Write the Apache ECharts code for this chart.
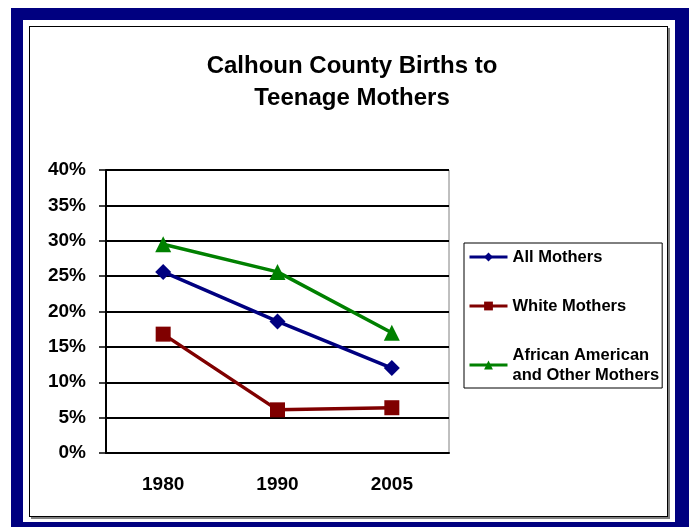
<!DOCTYPE html>
<html>
<head>
<meta charset="utf-8">
<script src="https://cdn.jsdelivr.net/npm/echarts@6/dist/echarts.min.js"></script>
<style>
  html, body { margin: 0; padding: 0; background: #fff; }
  #frame { position: absolute; left: 11px; top: 8px; width: 678px; height: 519px; background: #000080; }
  #inner { position: absolute; left: 23px; top: 20px; width: 652px; height: 502px; background: #fff; }
  #box { position: absolute; left: 29px; top: 26px; width: 637px; height: 489px; border: 1px solid #000; box-shadow: 2px 2px 0 #808080; background: #fff; }
  #main { position: absolute; left: 0; top: 0; width: 689px; height: 527px; }
</style>
</head>
<body>
<div id="frame"></div>
<div id="inner"></div>
<div id="box"></div>
<div id="main"></div>
<script>
  // 数据
  let years = ['1980', '1990', '2005'];
  let allMothers = [25.6, 18.6, 12.0];
  let whiteMothers = [16.8, 6.1, 6.4];
  let africanMothers = [29.5, 25.6, 17.0];

  let font = 'Liberation Sans, Arial, sans-serif';
  let myChart = echarts.init(document.getElementById('main'));

  let option = {
    textStyle: { fontFamily: font },
    title: {
      text: 'Calhoun County Births to\nTeenage Mothers',
      left: 347,
      top: 45,
      textAlign: 'center',
      textStyle: { fontSize: 24, fontWeight: 'bold', color: '#000', lineHeight: 32, fontFamily: font }
    },
    legend: {
      orient: 'vertical',
      left: 464,
      top: 243,
      padding: [4, 3, 3, 4],
      borderColor: '#000',
      borderWidth: 1,
      backgroundColor: '#fff',
      itemWidth: 38,
      itemHeight: 11,
      itemGap: 29,
      lineStyle: { width: 3 },
      textStyle: { fontSize: 16.5, fontWeight: 'bold', color: '#000', lineHeight: 20, fontFamily: font },
      data: ['All Mothers', 'White Mothers', 'African American\nand Other Mothers']
    },
    grid: {
      left: 106,
      right: 240,
      top: 170,
      bottom: 74,
      show: true,
      borderColor: '#808080',
      borderWidth: 1
    },
    xAxis: {
      type: 'category',
      data: years,
      boundaryGap: true,
      axisLine: { lineStyle: { color: '#000', width: 2 } },
      axisTick: { length: 6, lineStyle: { color: '#000', width: 1.5 } },
      axisLabel: { margin: 22, fontSize: 19, fontWeight: 'bold', color: '#000', fontFamily: font }
    },
    yAxis: {
      type: 'value',
      min: 0,
      max: 40,
      interval: 5,
      axisLine: { show: true, lineStyle: { color: '#000', width: 2 } },
      axisTick: { show: true, length: 7, lineStyle: { color: '#000', width: 1.5 } },
      axisLabel: { formatter: '{value}%', margin: 20, fontSize: 19, fontWeight: 'bold', color: '#000', fontFamily: font },
      splitLine: { lineStyle: { color: '#000', width: 2 } }
    },
    series: [
      {
        name: 'All Mothers',
        type: 'line',
        data: allMothers,
        symbol: 'diamond',
        symbolSize: 16,
        color: '#000080',
        lineStyle: { width: 3.5 },
        z: 3
      },
      {
        name: 'White Mothers',
        type: 'line',
        data: whiteMothers,
        symbol: 'rect',
        symbolSize: 15,
        color: '#800000',
        lineStyle: { width: 3.5 },
        z: 2
      },
      {
        name: 'African American\nand Other Mothers',
        type: 'line',
        data: africanMothers,
        symbol: 'triangle',
        symbolSize: 16,
        color: '#008000',
        lineStyle: { width: 3.5 },
        z: 4
      }
    ]
  };

  myChart.setOption(option);
</script>
</body>
</html>
